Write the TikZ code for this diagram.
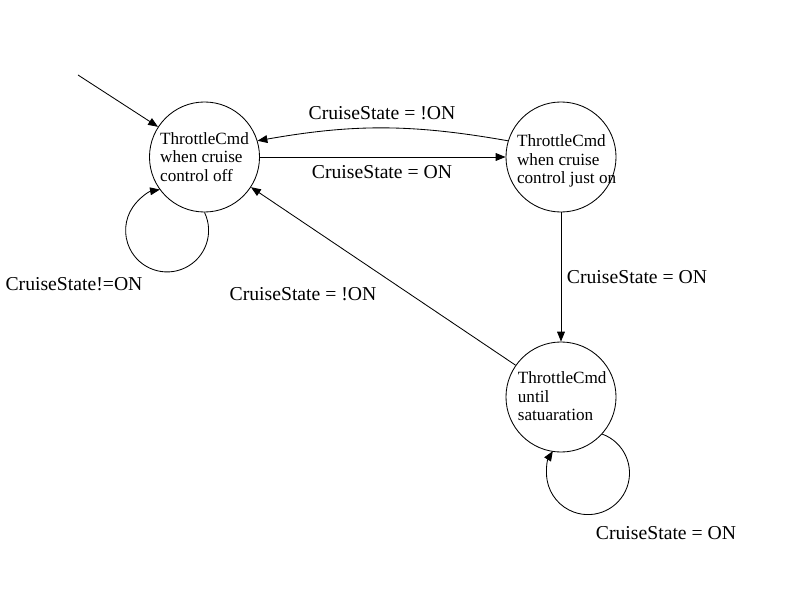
\documentclass[tikz,border=0pt]{standalone}
\usepackage{fontspec}
\setmainfont{Liberation Serif}
\usepackage{tikz}
\usetikzlibrary{arrows.meta}
\tikzstyle{state} = [draw, circle, minimum size=2.75cm, inner sep=0pt]
\tikzstyle{statetext} = [align=left, inner sep=0pt, font=\fontsize{12.2}{13.4}\selectfont]
\tikzstyle{cond} = [font=\fontsize{14}{16}\selectfont]
\tikzstyle{arrow} = [-{Triangle[length=7pt,width=5.5pt]}]

\begin{document}
\begin{tikzpicture}[x=0.025cm,y=0.025cm,line width=0.6pt]
	\useasboundingbox (0,0) rectangle (800,600);
	
	% States:
	% The text sits in a label at the centre, so that the circles keep one size
	\node [state,label={[statetext]center:ThrottleCmd\\when cruise\\control off}] (off) at (204.5,443) {};
	\node [state,label={[statetext,xshift=0.14cm,yshift=-0.1cm]center:ThrottleCmd\\when cruise\\control just on}] (juston) at (561,443) {};
	\node [state,label={[statetext,xshift=0.03cm,yshift=0.02cm]center:ThrottleCmd\\until\\satuaration}] (sat) at (561,203) {};
	
	% Initial arrow:
	\coordinate (init) at (78,525);
	\draw [arrow] (init) -- (off.147);
	
	% Transitions:
	\draw [arrow] (off.east) -- (juston.west);
	\draw [arrow] (juston.163) to [bend right=10] (off.17);
	\draw [arrow] (juston.south) -- (sat.north);
	\draw [arrow] (sat.145) -- (off.-33);
	
	% Self loops:
	\draw [arrow] (off.-90) arc [start angle=25.7, end angle=-260, radius=41.5];
	\draw [arrow] (sat.-42) arc [start angle=70, end angle=-212, radius=41.5];
	
	% Conditions:
	\node [cond] (offtoon) at (382,428) {CruiseState = ON};
	\node [cond] (ontooff) at (382,487) {CruiseState = !ON};
	\node [cond] (offloop) at (74,316) {CruiseState!=ON};
	\node [cond] (sattooff) at (303,306) {CruiseState = !ON};
	\node [cond] (ontosat) at (637,323) {CruiseState = ON};
	\node [cond] (satloop) at (666,67) {CruiseState = ON};
\end{tikzpicture}
\end{document}
